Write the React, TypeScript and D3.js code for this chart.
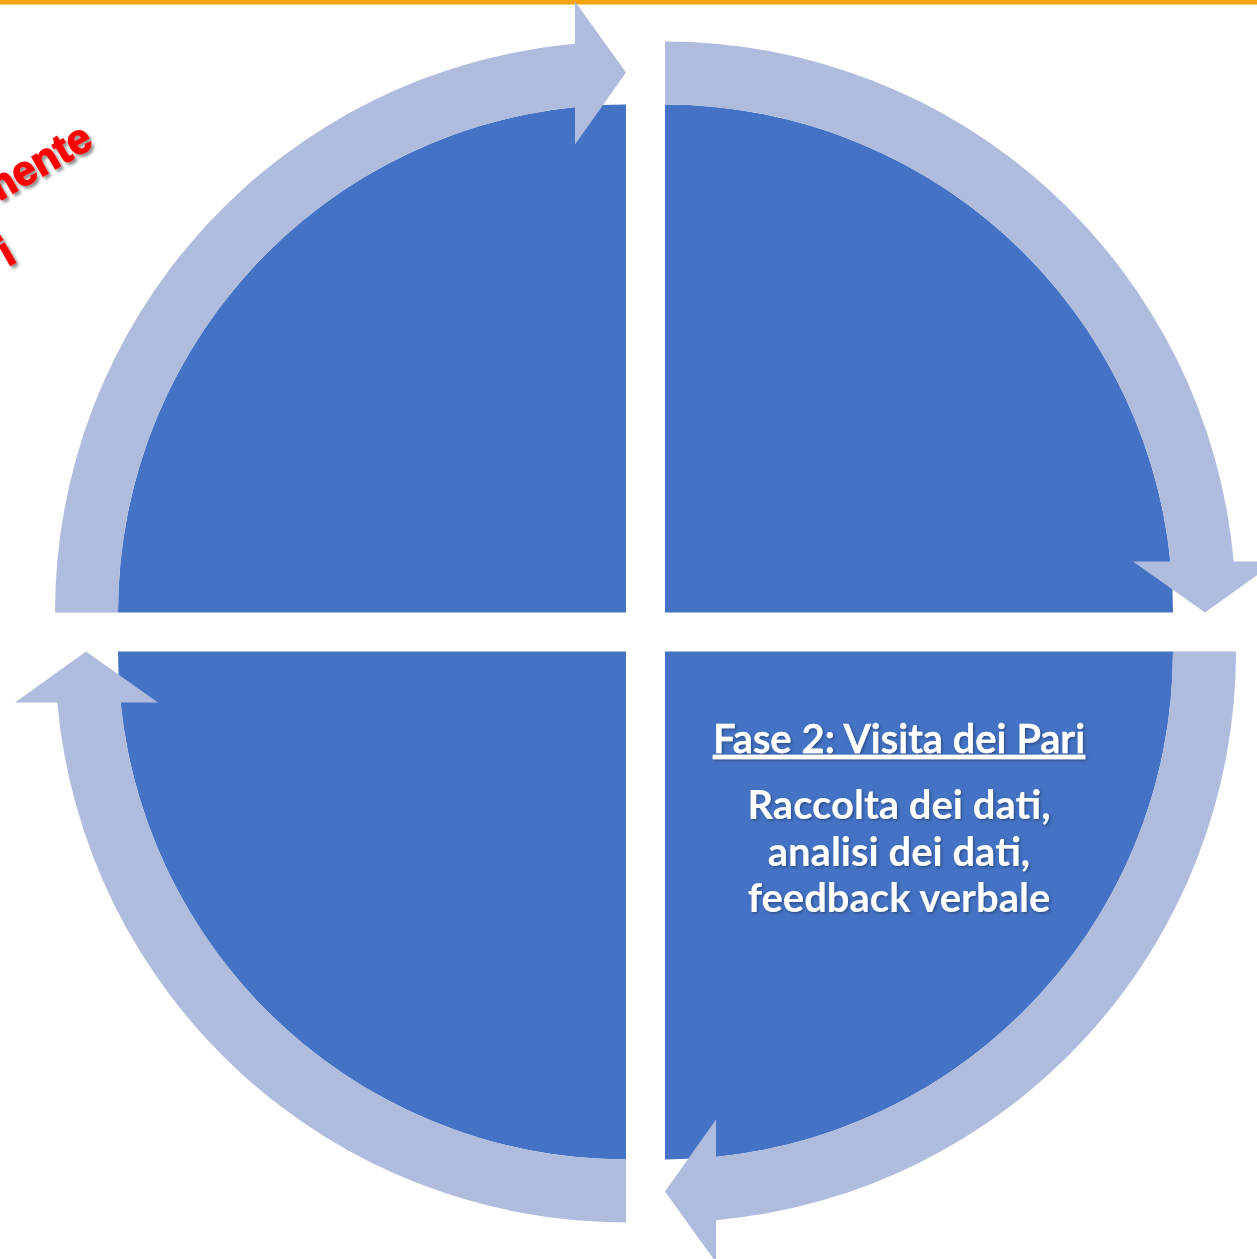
import * as d3 from "d3";
import { useEffect } from "react";

// four quarters of the cycle, start angle in degrees (clockwise from 12 o'clock)
const quarterStarts = [-90, 0, 90, 180];
// which side of the centre each quarter sits on
const quarterSides = [
  [-1, -1],
  [1, -1],
  [1, 1],
  [-1, 1],
];

const headingText = "Fase 2: Visita dei Pari";
const bodyLines = ["Raccolta dei dati,", "analisi dei dati,", "feedback verbale"];
const redLines = ["mente", "i"];

const width = 1257;
const height = 1259;
const center = { x: 645.5, y: 632 };
const gap = 19.5;
const radius = 508;
const band = { inner: 508, outer: 571 };
const head = { inner: 468, outer: 611, mid: 540, length: 51 };

const deg = d3.scaleLinear().domain([0, 360]).range([0, 2 * Math.PI]);

function pt(cx: number, cy: number, a: number, r: number): [number, number] {
  return [cx + r * Math.sin(a), cy - r * Math.cos(a)];
}

function arrowPath(cx: number, cy: number, a0: number, a1: number) {
  const tx = Math.cos(a1);
  const ty = Math.sin(a1);
  const tip = pt(cx, cy, a1, head.mid);
  const ho = pt(cx, cy, a1, head.outer);
  const hi = pt(cx, cy, a1, head.inner);
  const bo: [number, number] = [ho[0] - head.length * tx, ho[1] - head.length * ty];
  const bi: [number, number] = [hi[0] - head.length * tx, hi[1] - head.length * ty];
  const eo = a1 - Math.asin(head.length / band.outer);
  const ei = a1 - Math.asin(head.length / band.inner);
  const p = d3.path();
  const s0 = pt(cx, cy, a0, band.inner);
  p.moveTo(s0[0], s0[1]);
  const s1 = pt(cx, cy, a0, band.outer);
  p.lineTo(s1[0], s1[1]);
  p.arc(cx, cy, band.outer, a0 - Math.PI / 2, eo - Math.PI / 2, false);
  const e1 = pt(cx, cy, eo, band.outer);
  p.lineTo(e1[0], e1[1]);
  p.lineTo(bo[0], bo[1]);
  p.lineTo(tip[0], tip[1]);
  p.lineTo(bi[0], bi[1]);
  const e2 = pt(cx, cy, ei, band.inner);
  p.lineTo(e2[0], e2[1]);
  p.arc(cx, cy, band.inner, ei - Math.PI / 2, a0 - Math.PI / 2, true);
  p.closePath();
  return p.toString();
}

export default function App() {
  useEffect(() => {
    document.body.style.margin = "0";
  }, []);

  const arc = d3.arc<{ a0: number }>()
    .innerRadius(0)
    .outerRadius(radius)
    .startAngle((d) => d.a0)
    .endAngle((d) => d.a0 + Math.PI / 2);

  const quarters = quarterStarts.map((s, i) => {
    const a0 = deg(s);
    const cx = center.x + quarterSides[i][0] * gap;
    const cy = center.y + quarterSides[i][1] * gap;
    return { a0, cx, cy };
  });

  const textX = 899;

  return (
    <svg
      width={width}
      height={height}
      style={{ display: "block", position: "absolute", left: 0, top: 0 }}
    >
      <defs>
        <filter id="redShadow" x="-20%" y="-20%" width="140%" height="140%">
          <feDropShadow dx="2.5" dy="2.5" stdDeviation="1.5" floodColor="#000" floodOpacity="0.45" />
        </filter>
        <filter id="whiteShadow" x="-10%" y="-20%" width="120%" height="140%">
          <feDropShadow dx="1.5" dy="1.5" stdDeviation="1" floodColor="#1f3763" floodOpacity="0.6" />
        </filter>
      </defs>
      <rect x={0} y={0} width={width} height={height} fill="#ffffff" />
      <rect x={0} y={0} width={width} height={4.5} fill="#F1A40B" />

      {quarters.map((q, i) => (
        <path
          key={"q" + i}
          d={arc({ a0: q.a0 }) as string}
          transform={`translate(${q.cx},${q.cy})`}
          fill="#4472C4"
        />
      ))}
      {quarters.map((q, i) => (
        <path key={"a" + i} d={arrowPath(q.cx, q.cy, q.a0, q.a0 + Math.PI / 2)} fill="#AFBCDD" />
      ))}

      <g
        fontFamily="Lato, 'Open Sans', sans-serif"
        fill="#ffffff"
        textAnchor="middle"
        filter="url(#whiteShadow)"
      >
        <text
          x={textX}
          y={753}
          fontSize={40}
          fontWeight={600}
          stroke="#ffffff"
          strokeWidth={0.6}
          style={{ textDecoration: "underline" }}
        >
          {headingText}
        </text>
        {bodyLines.map((line, i) => (
          <text key={i} x={textX} y={819 + i * 46.5} fontSize={40} fontWeight={700}>
            {line}
          </text>
        ))}
      </g>

      <g
        fontFamily="'Liberation Sans', Arial, sans-serif"
        fontWeight={700}
        fontSize={42}
        fill="#FF0000"
        stroke="#FF0000"
        strokeWidth={1.4}
        textAnchor="end"
        filter="url(#redShadow)"
      >
        <text transform="translate(95,146) rotate(-30)">{redLines[0]}</text>
        <text transform="translate(18,261) rotate(-30)">{redLines[1]}</text>
      </g>
    </svg>
  );
}
